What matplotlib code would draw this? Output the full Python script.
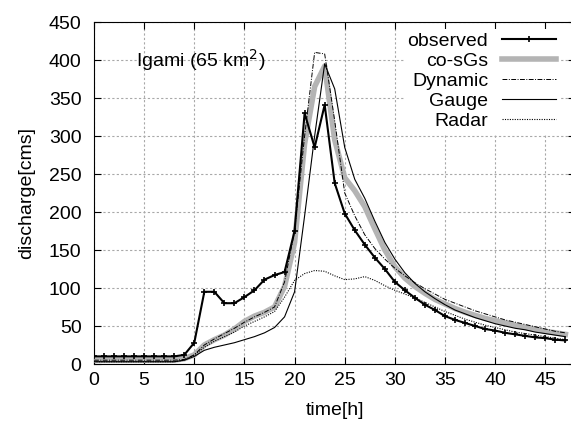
import numpy as np
import matplotlib
matplotlib.use("Agg")
import matplotlib.pyplot as plt

plt.rcParams['font.family'] = ['Liberation Sans', 'DejaVu Sans']

hours = np.arange(48)
observed = [10, 10, 10, 10, 10, 10, 10, 10, 10, 12, 28, 95, 95, 80, 80, 88, 97, 111, 117, 121,
            175, 330, 285, 341, 238, 198, 176, 157, 140, 125, 108, 97, 87, 78, 71, 63, 58, 54,
            50, 46, 44, 41, 39, 37, 35, 34, 32, 31]
cosgs = [5, 5, 5, 5, 5, 5, 5, 5, 5, 7, 12, 25, 32, 38, 46, 56, 63, 68, 75, 102,
         160, 290, 365, 392, 295, 245, 228, 207, 178, 150, 128, 113, 102, 93, 85, 79, 73, 68,
         64, 60, 57, 54, 51, 48, 46, 43, 41, 39]
dynamic = [5, 5, 5, 5, 5, 5, 5, 5, 5, 6, 12, 25, 33, 40, 47, 55, 62, 68, 75, 108,
           175, 300, 410, 408, 320, 225, 195, 170, 152, 138, 126, 116, 107, 99, 92, 85, 80, 75,
           70, 66, 62, 58, 55, 52, 49, 46, 43, 41]
gauge = [3, 3, 3, 3, 3, 3, 3, 3, 3, 5, 10, 18, 22, 25, 28, 32, 36, 41, 48, 62,
         95, 195, 300, 395, 362, 285, 243, 218, 188, 160, 138, 120, 106, 95, 86, 78, 71, 66,
         61, 57, 53, 50, 47, 45, 42, 40, 38, 36]
radar = [3, 3, 3, 3, 3, 3, 3, 3, 3, 5, 12, 22, 30, 36, 42, 50, 56, 62, 69, 88,
         110, 119, 123, 122, 116, 111, 112, 115, 110, 103, 97, 92, 87, 81, 75, 69, 64, 59,
         55, 51, 48, 45, 42, 40, 38, 36, 34, 32]

fs = 14

fig = plt.figure(figsize=(5.71, 4.23), dpi=100)
ax = fig.add_axes([94 / 571, 59 / 423, 481.4 / 571, 342 / 423])

ax.plot(hours, observed, color='black', lw=1.5, marker='+', ms=5, mew=1.2, label='observed', zorder=6)
ax.plot(hours, cosgs, color='#b4b4b4', lw=4, label='co-sGs', zorder=3)
ax.plot(hours, dynamic, color='black', lw=0.7, dashes=(5, 1.5, 1, 1.5), label='Dynamic', zorder=4)
ax.plot(hours, gauge, color='black', lw=0.8, label='Gauge', zorder=4)
ax.plot(hours, radar, color='black', lw=0.8, dashes=(1, 1.2), label='Radar', zorder=4)

ax.set_xlim(0, 48)
ax.set_ylim(0, 450)
ax.set_xticks(range(0, 50, 5))
ax.set_yticks(range(0, 451, 50))
ax.tick_params(direction='in', length=5, top=True, right=True, labelsize=fs)
ax.tick_params(axis='y', pad=9)
ax.tick_params(axis='x', pad=6)
ax.grid(True, color='#a8a8a8', ls=(0, (2, 2)), lw=0.8)
ax.set_axisbelow(True)
ax.set_xlabel('time[h]', fontsize=fs, labelpad=9)
ax.set_ylabel('discharge[cms]', fontsize=fs, labelpad=10)

ax.text(4.2, 400, 'Igami (65 km$^2$)', fontsize=fs, va='center', ha='left')

leg = ax.legend(loc='upper right', bbox_to_anchor=(570 / 571, 1 - 19 / 423),
                bbox_transform=fig.transFigure, markerfirst=False, frameon=True,
                fontsize=fs, handlelength=2.8, handletextpad=0.7, labelspacing=0.12,
                borderpad=0.2, fancybox=False)
leg.get_frame().set_edgecolor('none')
leg.get_frame().set_facecolor('white')
leg.get_frame().set_alpha(1)
for t in leg.get_texts():
    t.set_ha('right')
leg._legend_box.align = 'right'

fig.savefig('out.png', dpi=100)
